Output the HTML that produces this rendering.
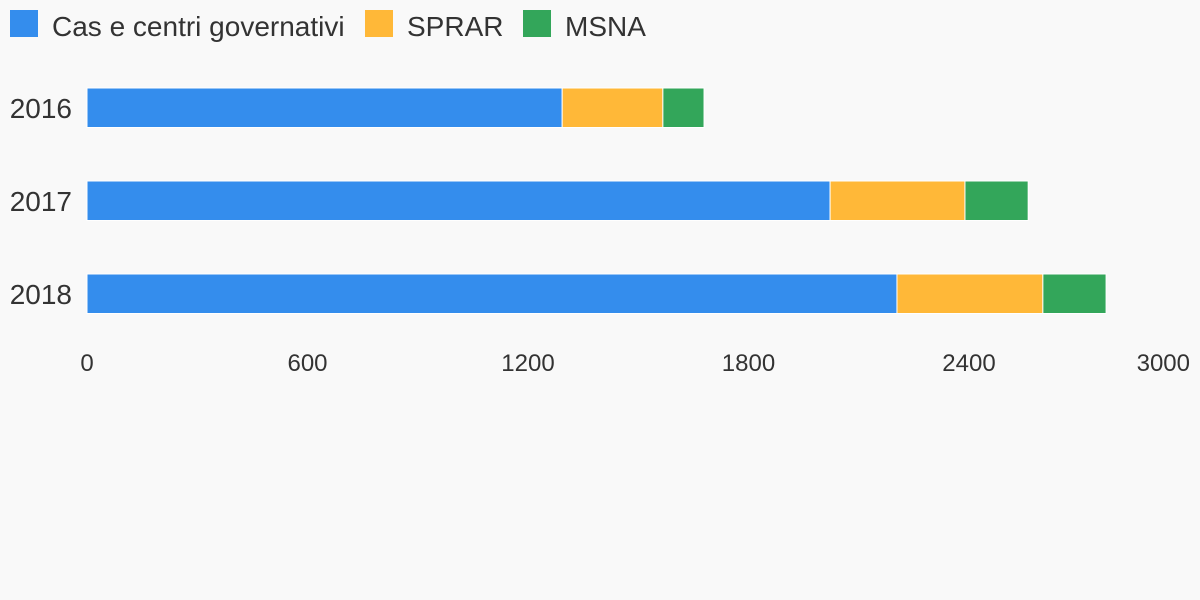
<!DOCTYPE html>
<html><head><meta charset="utf-8"><style>
html,body{margin:0;padding:0;background:#f9f9f9;}
svg{display:block;font-family:"Liberation Sans",sans-serif;}
</style></head><body>
<svg id="chart" width="1200" height="600" viewBox="0 0 1200 600">
<rect width="1200" height="600" fill="#f9f9f9"/>
<g id="legend"></g>
<g id="bars"></g>
<g id="ylabels"></g>
<g id="xticks"></g>
</svg>
<script>
const categories = ["2016","2017","2018"];
const seriesNames = ["Cas e centri governativi","SPRAR","MSNA"];
const casValues = [1293,2022,2204];
const sprarValues = [274,367,397];
const msnaValues = [112,172,172];
const tickValues = [0,600,1200,1800,2400,3000];

const colors = ["#348ded","#ffb838","#33a65a"];
const series = [casValues,sprarValues,msnaValues];
const NS = "http://www.w3.org/2000/svg";
const x0 = 87, xMax = 3000, plotW = 1102.5;
function xScale(v){ return x0 + v/xMax*plotW; }
function yScale(i){ return 88 + i*93; }
const barH = 39.5;

function mk(tag, attrs, parent){
  const el = document.createElementNS(NS, tag);
  for (const k in attrs) el.setAttribute(k, attrs[k]);
  parent.appendChild(el);
  return el;
}

// legend
const legend = document.getElementById('legend');
const legendX = [10, 365, 523];
seriesNames.forEach((n, i) => {
  const r = mk('rect', {x: legendX[i], y: 10, width: 28, height: 27, fill: colors[i]}, legend);
  
  
  const t = mk('text', {x: legendX[i] + 42, y: 36, 'font-size': 28, fill: '#333'}, legend);
  t.textContent = n;
  
  
});

// bars
const bars = document.getElementById('bars');
categories.forEach((c, ci) => {
  let acc = 0;
  series.forEach((s, si) => {
    const v = s[ci];
    const r = mk('rect', {x: xScale(acc), y: yScale(ci), width: xScale(acc + v) - xScale(acc), height: barH, fill: colors[si], stroke: '#ffffff', 'stroke-width': 1}, bars);
    
    
    acc += v;
  });
});

// y labels
const yl = document.getElementById('ylabels');
categories.forEach((c, ci) => {
  const t = mk('text', {x: 72, y: yScale(ci) + barH/2 + 10, 'font-size': 28, fill: '#333', 'text-anchor': 'end'}, yl);
  t.textContent = c;
  
  
});

// x ticks
const xt = document.getElementById('xticks');
tickValues.forEach((v, i) => {
  const last = i === tickValues.length - 1;
  const t = mk('text', {x: last ? 1190 : xScale(v), y: 371, 'font-size': 24, fill: '#333', 'text-anchor': last ? 'end' : 'middle'}, xt);
  t.textContent = v;
  
  
});
</script>
</body></html>
